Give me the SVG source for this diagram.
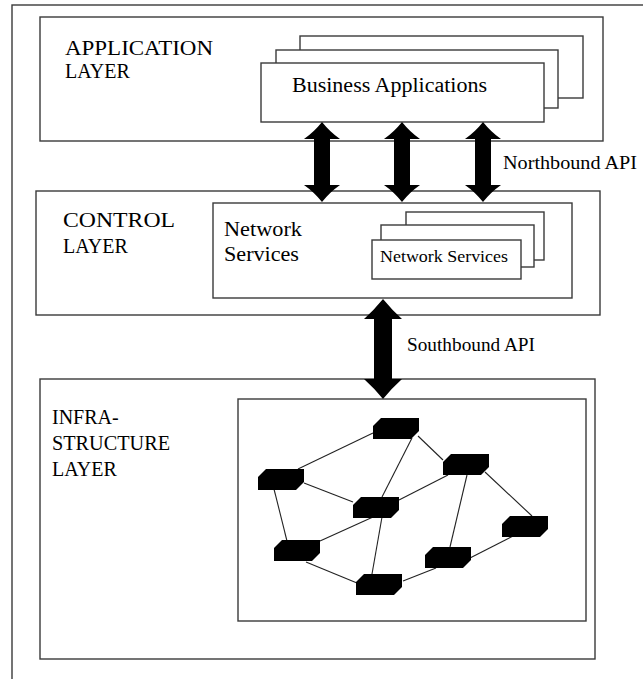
<svg xmlns="http://www.w3.org/2000/svg" width="643" height="679" viewBox="0 0 643 679">
<defs>
<style>
.box{fill:#fff;stroke:#3a3a3a;stroke-width:1.4}
.lbl{font-family:'Liberation Serif','Times New Roman',serif;font-size:20px;fill:#000}
.sm{font-family:'Liberation Serif','Times New Roman',serif;font-size:18px;fill:#000}
.arrow{fill:#000;stroke:none}
.link{stroke:#222;stroke-width:1.1;fill:none}
.router{fill:#000}
</style>
<path id="rt" d="M8,0 H46 V13 L38,21 H0 V8 Z"/>
</defs>
<rect width="643" height="679" fill="#fff"/>
<rect id="frame" x="12" y="5" width="700" height="720" fill="none" stroke="#3a3a3a" stroke-width="1.4"/>

<g id="application-layer">
<rect class="box" x="40" y="17" width="563" height="124"/>
<text class="lbl" x="65" y="55" textLength="148" lengthAdjust="spacingAndGlyphs">APPLICATION</text>
<text class="lbl" x="65" y="78">LAYER</text>
</g>
<g id="business-applications">
<rect class="box" x="300" y="36" width="283" height="62"/>
<rect class="box" x="276" y="50" width="282" height="58"/>
<rect class="box" x="261" y="63" width="283" height="59"/>
<text class="lbl" x="292" y="92" textLength="195" lengthAdjust="spacingAndGlyphs">Business Applications</text>
</g>

<g id="control-layer">
<rect class="box" x="36" y="191" width="564" height="124"/>
<text class="lbl" x="63" y="227" textLength="112" lengthAdjust="spacingAndGlyphs">CONTROL</text>
<text class="lbl" x="63" y="253">LAYER</text>
</g>
<g id="network-services">
<rect class="box" x="213" y="203" width="359" height="95"/>
<text class="lbl" x="224" y="236" textLength="78" lengthAdjust="spacingAndGlyphs">Network</text>
<text class="lbl" x="224" y="261" textLength="75" lengthAdjust="spacingAndGlyphs">Services</text>
</g>
<g id="network-services-stack">
<rect class="box" x="406" y="212" width="138" height="48"/>
<rect class="box" x="381" y="225" width="153" height="42"/>
<rect class="box" x="372" y="240" width="149" height="39"/>
<text class="sm" x="380" y="262" style="font-size:17px" textLength="128" lengthAdjust="spacingAndGlyphs">Network Services</text>
</g>

<g id="infrastructure-layer">
<rect class="box" x="40" y="379" width="555" height="280"/>
<text class="lbl" x="52" y="424">INFRA-</text>
<text class="lbl" x="52" y="450" textLength="118" lengthAdjust="spacingAndGlyphs">STRUCTURE</text>
<text class="lbl" x="52" y="476">LAYER</text>
</g>
<g id="network-devices">
<rect class="box" x="238" y="399" width="348" height="222"/>
</g>

<g id="connectors">
<g id="northbound-arrows" class="arrow">
<path d="M322,122 Q330,132 340,139 L330,139 L330,185 L340,185 Q330,192 322,202 Q314,192 304,185 L314,185 L314,139 L304,139 Q314,132 322,122 Z"/>
<path d="M402,122 Q410,132 420,139 L410,139 L410,185 L420,185 Q410,192 402,202 Q394,192 384,185 L394,185 L394,139 L384,139 Q394,132 402,122 Z"/>
<path d="M483,122 Q491,132 501,139 L491,139 L491,185 L501,185 Q491,192 483,202 Q475,192 465,185 L475,185 L475,139 L465,139 Q475,132 483,122 Z"/>
</g>
<text class="sm" x="503" y="169" textLength="134" lengthAdjust="spacingAndGlyphs">Northbound API</text>
<path id="southbound-arrow" class="arrow" d="M383,299 Q392,310 402,319 L392,319 L392,379 L402,379 Q392,388 383,399 Q374,388 364,379 L374,379 L374,319 L364,319 Q374,310 383,299 Z"/>
<text class="sm" x="407" y="351" textLength="128" lengthAdjust="spacingAndGlyphs">Southbound API</text>
<g id="links" class="link">
<line x1="373" y1="433" x2="298" y2="469"/>
<line x1="412" y1="438" x2="382" y2="497"/>
<line x1="418" y1="436" x2="443" y2="460"/>
<line x1="304" y1="483" x2="353" y2="502"/>
<line x1="448" y1="475" x2="399" y2="500"/>
<line x1="467" y1="475" x2="450" y2="547"/>
<line x1="485" y1="472" x2="532" y2="516"/>
<line x1="274" y1="489" x2="287" y2="541"/>
<line x1="373" y1="517" x2="320" y2="541"/>
<line x1="382" y1="517" x2="372" y2="574"/>
<line x1="306" y1="562" x2="357" y2="583"/>
<line x1="403" y1="581" x2="436" y2="568"/>
<line x1="470" y1="558" x2="513" y2="536"/>
</g>
</g>

<g id="router-a" class="router"><use href="#rt" x="373" y="418"/></g>
<g id="router-b" class="router"><use href="#rt" x="443" y="454"/></g>
<g id="router-c" class="router"><use href="#rt" x="258" y="469"/></g>
<g id="router-d" class="router"><use href="#rt" x="353" y="497"/></g>
<g id="router-e" class="router"><use href="#rt" x="502" y="516"/></g>
<g id="router-f" class="router"><use href="#rt" x="274" y="540"/></g>
<g id="router-g" class="router"><use href="#rt" x="425" y="547"/></g>
<g id="router-h" class="router"><use href="#rt" x="356" y="574"/></g>
</svg>
